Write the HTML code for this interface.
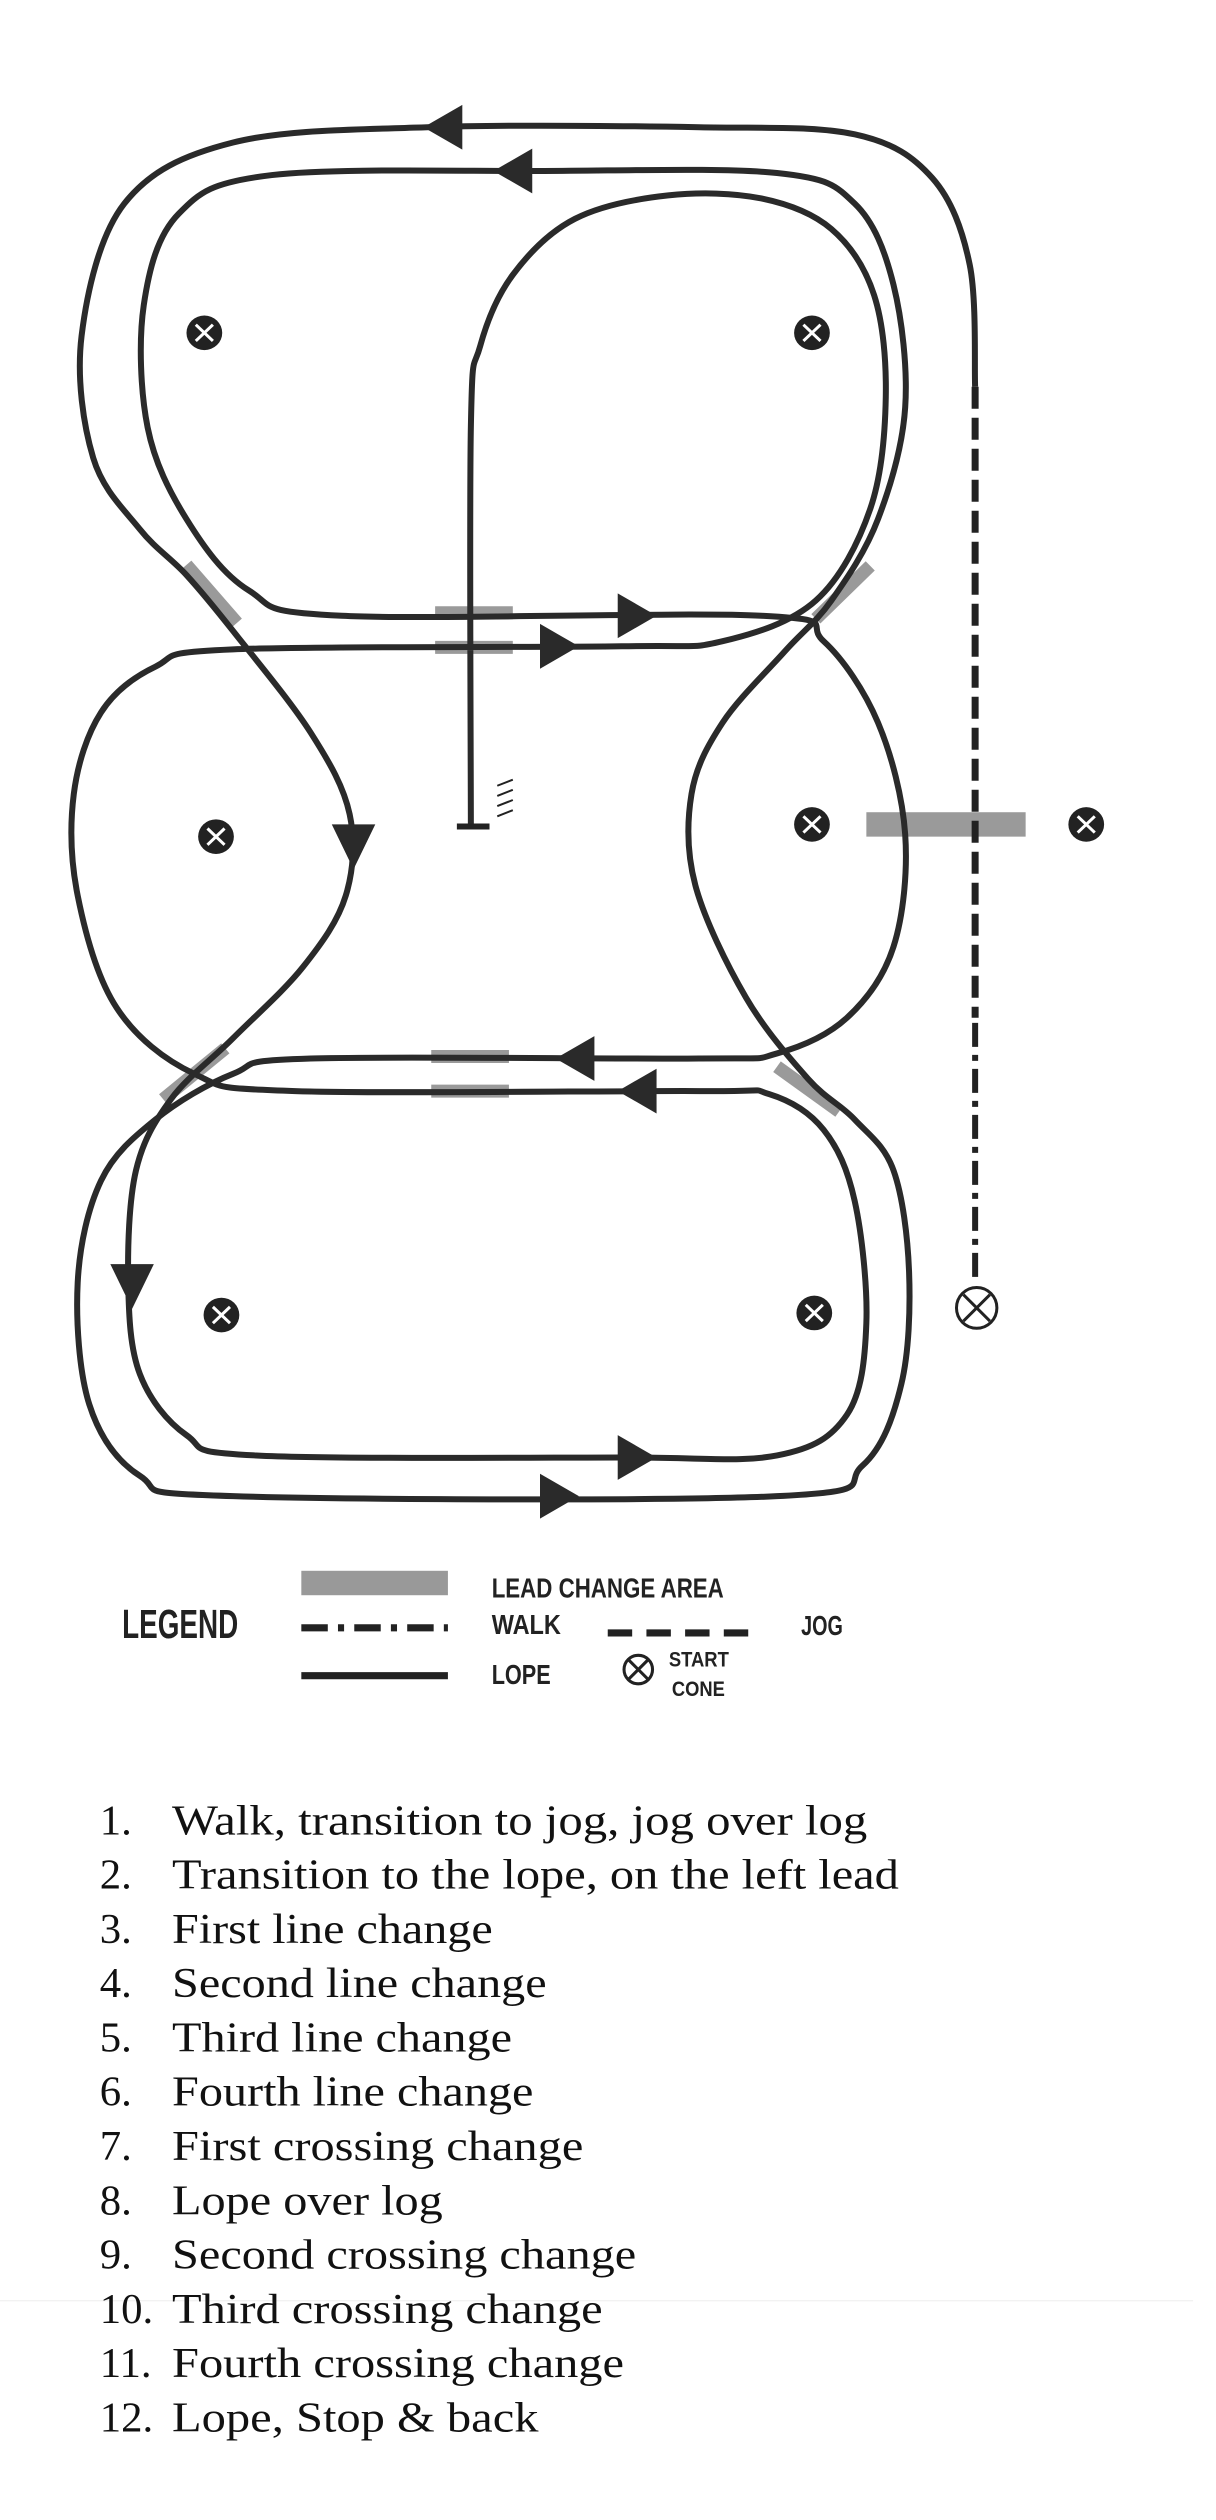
<!DOCTYPE html>
<html><head><meta charset="utf-8"><style>
html,body{margin:0;padding:0;background:#fff;}
body{width:1216px;height:2520px;position:relative;overflow:hidden;}
svg{position:absolute;left:0;top:0;}
.lg{font-family:"Liberation Sans",sans-serif;font-weight:bold;fill:#222;}
.li{font-family:"Liberation Serif",serif;font-size:42px;fill:#111;}
</style></head><body>
<svg id="diag" width="1216" height="1600" viewBox="0 0 1565 1572" preserveAspectRatio="none">
<g id="leads"></g>
<g id="paths"></g>
<g id="arrows"></g>
<g id="cones"></g>
<line x1="1255" y1="380" x2="1255" y2="1000" stroke="#222" stroke-width="7" stroke-dasharray="22 9" vector-effect="non-scaling-stroke"/>
<line x1="1255" y1="1005" x2="1255" y2="1262" stroke="#222" stroke-width="6" stroke-dasharray="24 8 6 8" vector-effect="non-scaling-stroke"/>
<g stroke="#222">
<line x1="588" y1="812" x2="630" y2="812" stroke-width="6" vector-effect="non-scaling-stroke"/>
<g stroke-width="2">
<line x1="640" y1="772" x2="660" y2="766" vector-effect="non-scaling-stroke"/>
<line x1="640" y1="782" x2="660" y2="776" vector-effect="non-scaling-stroke"/>
<line x1="640" y1="792" x2="660" y2="786" vector-effect="non-scaling-stroke"/>
<line x1="640" y1="802" x2="660" y2="796" vector-effect="non-scaling-stroke"/>
</g></g>
</svg>

<svg width="1216" height="2520" viewBox="0 0 1194.5 2475.4" style="top:0;left:0;pointer-events:none">
<g>
<text class="lg" x="120" y="1609" font-size="40" textLength="114" lengthAdjust="spacingAndGlyphs">LEGEND</text>
<rect x="296" y="1543" width="144" height="24" fill="#999"/>
<text class="lg" x="483" y="1569" font-size="27" textLength="228" lengthAdjust="spacingAndGlyphs">LEAD CHANGE AREA</text>
<line x1="296" y1="1599" x2="440" y2="1599" stroke="#222" stroke-width="7" stroke-dasharray="26 10 6 10"/>
<text class="lg" x="483" y="1605" font-size="27" textLength="68" lengthAdjust="spacingAndGlyphs">WALK</text>
<line x1="597" y1="1604" x2="741" y2="1604" stroke="#222" stroke-width="7" stroke-dasharray="24 14"/>
<text class="lg" x="787" y="1606" font-size="27" textLength="41" lengthAdjust="spacingAndGlyphs">JOG</text>
<line x1="296" y1="1646" x2="440" y2="1646" stroke="#222" stroke-width="7"/>
<text class="lg" x="483" y="1654" font-size="27" textLength="58" lengthAdjust="spacingAndGlyphs">LOPE</text>
<g stroke="#222" stroke-width="3" fill="none">
<circle cx="627" cy="1640" r="14"/><line x1="617" y1="1630" x2="637" y2="1650"/><line x1="637" y1="1630" x2="617" y2="1650"/></g>
<text class="lg" x="657" y="1637" font-size="21" textLength="59" lengthAdjust="spacingAndGlyphs">START</text>
<text class="lg" x="660" y="1666" font-size="21" textLength="52" lengthAdjust="spacingAndGlyphs">CONE</text>
</g>
<line x1="0" y1="2260" x2="1172" y2="2260" stroke="#eee" stroke-width="1"/>
<g id="list"></g>
</svg>

<script>
const NS='http://www.w3.org/2000/svg';
function mk(parent,tag,attrs){const e=document.createElementNS(NS,tag);for(const k in attrs)e.setAttribute(k,attrs[k]);parent.appendChild(e);return e;}
function cr(p,closed){
  const pts=p.slice();const n=pts.length;let d='M'+pts[0][0]+','+pts[0][1];
  const get=i=>closed?pts[(i+n)%n]:pts[Math.max(0,Math.min(n-1,i))];
  const m=closed?n:n-1;
  for(let i=0;i<m;i++){const p0=get(i-1),p1=get(i),p2=get(i+1),p3=get(i+2);
    const c1=[p1[0]+(p2[0]-p0[0])/6,p1[1]+(p2[1]-p0[1])/6];
    const c2=[p2[0]-(p3[0]-p1[0])/6,p2[1]-(p3[1]-p1[1])/6];
    d+=' C'+c1[0].toFixed(1)+','+c1[1].toFixed(1)+' '+c2[0].toFixed(1)+','+c2[1].toFixed(1)+' '+p2[0]+','+p2[1];}
  return d+(closed?' Z':'');
}
const path1=[[1255,380],[1248,260],[1200,175],[1100,132],[900,125],[550,125],[300,140],[160,200],[105,330],[120,450],[180,520],[240,565],[300,620],[400,720],[450,800],[445,880],[390,950],[300,1020],[220,1080],[175,1150],[165,1260],[180,1350],[240,1410],[330,1430],[800,1432],[1000,1430],[1090,1390],[1115,1300],[1100,1180],[1060,1110],[990,1075],[900,1072],[380,1072],[250,1055],[150,990],[100,880],[95,780],[130,700],[200,655],[300,638],[800,635],[930,630],[1050,590],[1120,500],[1140,390],[1125,290],[1070,225],[980,195],[860,192],[740,215],[660,270],[618,340],[606,420],[606,812]];
const path2=[[1000,1470],[1110,1440],[1160,1360],[1170,1250],[1150,1150],[1100,1100],[1040,1060],[960,980],[895,870],[890,780],[930,710],[1010,640],[1070,590],[1130,510],[1165,400],[1150,280],[1100,200],[1000,170],[700,168],[350,172],[230,210],[185,300],[190,420],[240,510],[320,580],[440,605],[980,605],[1060,630],[1130,710],[1165,820],[1150,930],[1090,1000],[1000,1035],[900,1040],[400,1040],[300,1055],[200,1100],[130,1160],[100,1260],[115,1380],[180,1450],[300,1470]];
const P=document.getElementById('paths');
const e1=mk(P,'path',{d:cr(path1,false),fill:'none',stroke:'#2a2a2a','stroke-width':6,'vector-effect':'non-scaling-stroke'});


const e2=mk(P,'path',{d:cr(path2,true),fill:'none',stroke:'#2a2a2a','stroke-width':6,'vector-effect':'non-scaling-stroke'});


const L=document.getElementById('leads');
const leadBars=[[560,602,660,602],[560,636,660,636],[555,1038,655,1038],[555,1072,655,1072],[240,555,305,612],[1050,608,1120,556],[210,1080,290,1030],[1000,1048,1080,1092]];
leadBars.forEach(b=>{const l=mk(L,'line',{x1:b[0],y1:b[1],x2:b[2],y2:b[3],stroke:'#9a9a9a','stroke-width':13,'vector-effect':'non-scaling-stroke'});

});
const lg=mk(L,'rect',{x:1115,y:798,width:205,height:24,fill:'#9a9a9a'});


const A=document.getElementById('arrows');
const arrows=[[570,125,'L'],[660,168,'L'],[820,605,'R'],[720,635,'R'],[455,830,'D'],[740,1040,'L'],[820,1072,'L'],[170,1262,'D'],[820,1432,'R'],[720,1470,'R']];
arrows.forEach(a=>{const [x,y,dir]=a;let pts;
 if(dir==='L')pts=[[x-25,y],[x+25,y-22],[x+25,y+22]];
 else if(dir==='R')pts=[[x+25,y],[x-25,y-22],[x-25,y+22]];
 else pts=[[x,y+24],[x-28,y-20],[x+28,y-20]];
 const t=mk(A,'polygon',{points:pts.map(p=>p.join(',')).join(' '),fill:'#2a2a2a'});
 
 });
const C=document.getElementById('cones');
const cones=[[263,327],[1045,327],[278,822],[1045,810],[1398,810],[285,1292],[1048,1290]];
cones.forEach(c=>{const g=mk(C,'g',{});
 
 
 mk(g,'ellipse',{cx:c[0],cy:c[1],rx:23,ry:17,fill:'#222'});
 mk(g,'line',{x1:c[0]-11,y1:c[1]-8,x2:c[0]+11,y2:c[1]+8,stroke:'#fff','stroke-width':3,'vector-effect':'non-scaling-stroke'});
 mk(g,'line',{x1:c[0]+11,y1:c[1]-8,x2:c[0]-11,y2:c[1]+8,stroke:'#fff','stroke-width':3,'vector-effect':'non-scaling-stroke'});});
const sg=mk(C,'g',{});


mk(sg,'ellipse',{cx:1257,cy:1285,rx:26,ry:20,fill:'#fff',stroke:'#222','stroke-width':3,'vector-effect':'non-scaling-stroke'});
mk(sg,'line',{x1:1240,y1:1272,x2:1274,y2:1298,stroke:'#222','stroke-width':3,'vector-effect':'non-scaling-stroke'});
mk(sg,'line',{x1:1274,y1:1272,x2:1240,y2:1298,stroke:'#222','stroke-width':3,'vector-effect':'non-scaling-stroke'});
const items=['Walk, transition to jog, jog over log','Transition to the lope, on the left lead','First line change','Second line change','Third line change','Fourth line change','First crossing change','Lope over log','Second crossing change','Third crossing change','Fourth crossing change','Lope, Stop & back'];
const ends=[852,883,484,537,503,524,573,435,625,592,613,529];
const LI=document.getElementById('list');
items.forEach((s,i)=>{const y=1802+i*53.3;
 const n=mk(LI,'text',{class:'li',x:98,y:y});n.textContent=(i+1)+'.';
 
 
 const t=mk(LI,'text',{class:'li',x:169,y:y,textLength:ends[i]-169,lengthAdjust:'spacingAndGlyphs'});t.textContent=s;
 
 });
</script>
</body></html>
